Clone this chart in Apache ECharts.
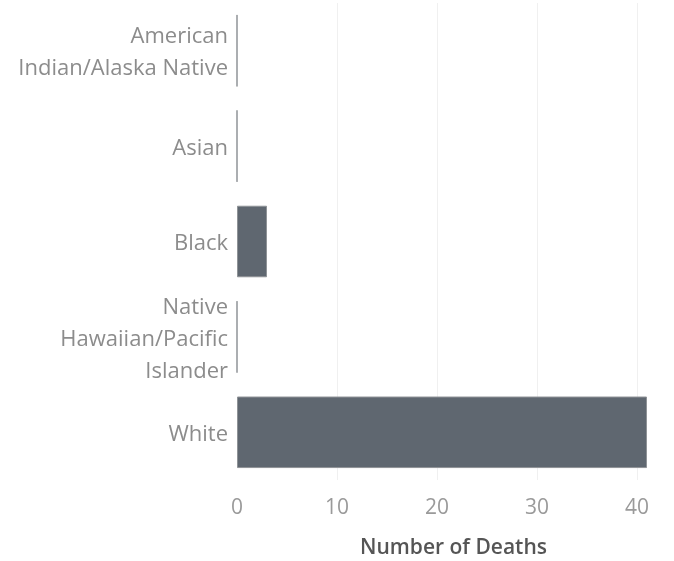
<!DOCTYPE html>
<html>
<head>
<meta charset="utf-8">
<script src="https://cdn.jsdelivr.net/npm/echarts@6/dist/echarts.min.js"></script>
<style>html,body{margin:0;padding:0;background:#fff}#c{width:674px;height:561px}</style>
</head>
<body>
<div id="c"></div>
<script>
const categories = ['American Indian/Alaska Native', 'Asian', 'Black', 'Native Hawaiian/Pacific Islander', 'White'];
const categoryLabels = ['American\nIndian/Alaska Native', 'Asian', 'Black', 'Native\nHawaiian/Pacific\nIslander', 'White'];
const deaths = [0, 0, 3, 0, 41];
const xTicks = [0, 10, 20, 30, 40];

const chart = echarts.init(document.getElementById('c'));
chart.setOption({
  animation: false,
  textStyle: { fontFamily: 'Open Sans' },
  grid: { left: 237, right: 24, top: 3, bottom: 81, outerBoundsMode: 'none', containLabel: false },
  xAxis: {
    type: 'value', min: 0, max: 41.3, interval: 10,
    name: 'Number of Deaths', nameLocation: 'middle', nameGap: 58,
    nameTextStyle: { color: '#555', fontSize: 21, fontWeight: 600, fontFamily: 'Open Sans', padding: [0, 0, 0, 20] },
    axisLine: { show: false }, axisTick: { show: false },
    axisLabel: { color: '#9a9a9a', fontSize: 21, margin: 18, showMaxLabel: false,
      formatter: v => xTicks.includes(v) ? String(v) : '' },
    splitLine: { show: false }
  },
  yAxis: {
    type: 'category', data: categories, inverse: true,
    axisLine: { show: false }, axisTick: { show: false },
    axisLabel: { color: '#8c8c8c', fontSize: 22, margin: 9, align: 'right',
      formatter: (v, i) => categoryLabels[i].split('\n').map(s => '{a|' + s + '}').join('\n'),
      rich: { a: { color: '#8c8c8c', fontSize: 22, fontFamily: 'Open Sans', lineHeight: 32, padding: [5, 0, 0, 0] } }
    }
  },
  series: [{
    type: 'bar', data: deaths, barCategoryGap: '25%', z: 3,
    itemStyle: { color: '#5f6770', borderColor: '#8f9397', borderWidth: 1 },
    markLine: {
      silent: true, symbol: 'none', z: 1,
      label: { show: false },
      lineStyle: { color: '#f0f0f0', width: 1, type: 'solid' },
      data: xTicks.slice(1).map(t => ({ xAxis: t }))
    }
  }]
});
</script>
</body>
</html>
